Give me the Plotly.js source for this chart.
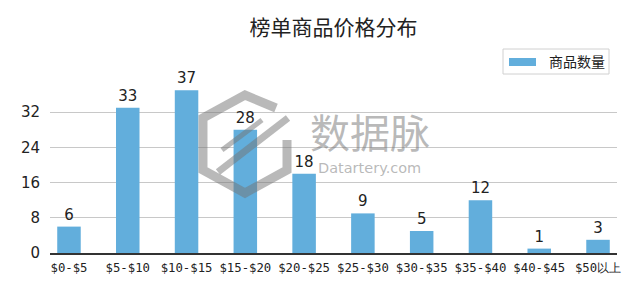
<!DOCTYPE html>
<html><head><meta charset="utf-8">
<script src="https://cdn.plot.ly/plotly-3.0.1.min.js"></script>
<style>html,body{margin:0;padding:0;background:#fff;}#chart{width:640px;height:288px;}</style>
</head><body><div id="chart"></div>
<script>
const categories = ["$0-$5","$5-$10","$10-$15","$15-$20","$20-$25","$25-$30","$30-$35","$35-$40","$40-$45","$50以上"];
const counts = [6,33,37,28,18,9,5,12,1,3];
const yTicks = [0,8,16,24,32];
const seriesName = "商品数量";
const titleText = "榜单商品价格分布";
const barColor = '#62aedc';

// pixel -> paper helpers for decoration (plot area 50..617 x, 77..253 y)
const L = 50, R = 617, T = 77, B = 253;
const px = x => (x - L) / (R - L);
const py = y => (B - y) / (B - T);
const P = pts => 'M' + pts.map(p => px(p[0]).toFixed(4) + ',' + py(p[1]).toFixed(4)).join(' L');

const wm = 'rgba(115,115,115,0.5)';
const trace = {
  type: 'bar', x: categories, y: counts, name: seriesName,
  marker: {color: barColor},
  text: counts.map(String), textposition: 'outside', cliponaxis: false,
  textfont: {family: 'DejaVu Sans, sans-serif', size: 15, color: '#222'},
  hoverinfo: 'none', showlegend: false
};
const layout = {
  width: 640, height: 288,
  margin: {l: L, r: 640 - R, t: T, b: 288 - B},
  paper_bgcolor: '#fff', plot_bgcolor: '#fff',
  title: {text: titleText, x: 0.5, xref: 'paper', y: 0.905, yref: 'container', yanchor: 'middle',
          font: {family: 'Noto Sans CJK SC, sans-serif', size: 21, color: '#222'}},
  bargap: 0.6,
  xaxis: {type: 'category', range: [-0.323, 9.323], showgrid: false, showline: true, linecolor: '#333', linewidth: 1.5,
          ticks: '', ticklabelstandoff: 3, tickfont: {family: 'DejaVu Sans Mono, monospace', size: 12.3, color: '#222'}, fixedrange: true},
  yaxis: {range: [0, 40], tickvals: yTicks, showgrid: true, gridcolor: '#c8c8c8', gridwidth: 1, zeroline: false,
          showline: false, ticks: '', ticklabelstandoff: 9, tickfont: {family: 'DejaVu Sans, sans-serif', size: 15, color: '#222'},
          automargin: false},
  showlegend: false,
  shapes: [
    // legend box
    {type: 'rect', xref: 'paper', yref: 'paper', x0: px(503), x1: px(609), y0: py(74), y1: py(49),
     line: {color: '#d0d0d0', width: 1}, fillcolor: '#fff', layer: 'above'},
    {type: 'rect', xref: 'paper', yref: 'paper', x0: px(509), x1: px(536), y0: py(66), y1: py(58),
     line: {width: 0}, fillcolor: barColor, layer: 'above'},
    // watermark logo
    {type: 'path', xref: 'paper', yref: 'paper', layer: 'above',
     path: P([[276,108],[245,95],[203,118],[203,170],[245,193],[287,170],[287,140]]),
     line: {color: wm, width: 9}},
    {type: 'line', xref: 'paper', yref: 'paper', layer: 'above',
     x0: px(218), y0: py(172), x1: px(288), y1: py(118), line: {color: wm, width: 7}},
    {type: 'line', xref: 'paper', yref: 'paper', layer: 'above',
     x0: px(222), y0: py(150), x1: px(262), y1: py(120), line: {color: wm, width: 5}}
  ],
  annotations: [
    {text: seriesName, xref: 'paper', yref: 'paper', x: px(576.5), y: py(61.5), showarrow: false,
     xanchor: 'center', yanchor: 'middle',
     font: {family: 'Noto Sans CJK SC, sans-serif', size: 14, color: '#222'}},
    {text: '数据脉', xref: 'paper', yref: 'paper', x: px(370), y: py(131), showarrow: false,
     xanchor: 'center', yanchor: 'middle',
     font: {family: 'Noto Sans CJK SC, sans-serif', size: 40, color: wm}},
    {text: 'Datartery.com', xref: 'paper', yref: 'paper', x: px(316), y: py(168), showarrow: false,
     xanchor: 'left', yanchor: 'middle',
     font: {family: 'DejaVu Sans, sans-serif', size: 14.5, color: wm}}
  ]
};
Plotly.newPlot('chart', [trace], layout, {displayModeBar: false, staticPlot: true});
</script></body></html>
